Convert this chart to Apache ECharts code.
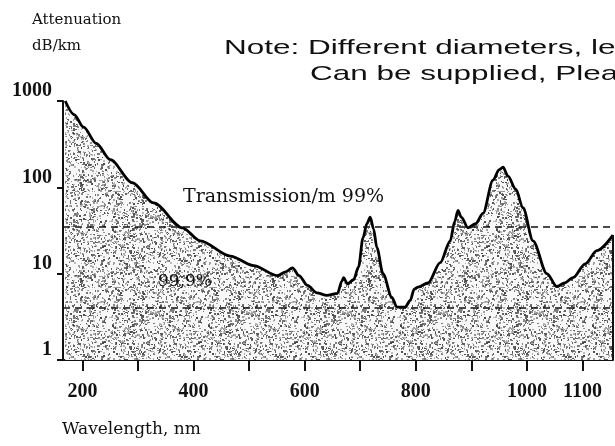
<!DOCTYPE html>
<html>
<head>
<meta charset="utf-8">
<script src="https://cdn.jsdelivr.net/npm/echarts@6/dist/echarts.min.js"></script>
<style>
  html, body { margin: 0; padding: 0; background: #fff; }
  #chart { width: 615px; height: 446px; }
</style>
</head>
<body>
<div id="chart"></div>
<script>
// wavelength (nm) and attenuation (dB/km)
const wavelength = [169, 185, 202, 225, 250, 290, 328, 380, 412, 466, 508, 551, 566, 578, 590, 605, 622, 640, 659, 667, 670, 677, 688, 697, 705, 712, 718, 724, 730, 741, 757, 766, 781, 790, 797, 804, 822, 844, 862, 870, 876, 882, 894, 908, 921, 939, 950, 957, 966, 980, 993, 1011, 1036, 1054, 1068, 1083, 1105, 1126, 1155];
const attenuation = [1000, 697, 497, 322, 209, 113, 66, 34, 24, 16, 12.4, 9.5, 10.5, 11.7, 9.5, 7.3, 6.0, 5.6, 5.9, 8.2, 9, 7.6, 8.5, 12, 26, 38, 45, 33, 20, 10, 5.3, 4.1, 4.1, 4.9, 6.6, 7.0, 7.8, 13.4, 24, 40, 54, 45, 34, 38, 50, 121, 160, 171, 135, 95, 58, 24, 10, 7.1, 7.8, 9, 13, 18.5, 28];

const xTicks = [200, 300, 400, 500, 600, 700, 800, 900, 1000, 1100];
const xLabels = [200, 400, 600, 800, 1000, 1100];
const xMin = 165;
const xMax = 1155;

const trans99 = 35;   // Transmission/m 99%
const trans999 = 4;   // 99,9%

// stippled fill like the scanned print
function stipple() {
  const size = 96;
  const c = document.createElement("canvas");
  c.width = c.height = size;
  const ctx = c.getContext("2d");
  ctx.fillStyle = "#f8f8f8";
  ctx.fillRect(0, 0, size, size);
  let s = 20240611;
  const rnd = () => {
    s = (Math.imul(s, 1664525) + 1013904223) >>> 0;
    return s / 4294967296;
  };
  for (let i = 0; i < 1500; i++) {
    const g = Math.floor(70 + rnd() * 120);
    ctx.fillStyle = "rgb(" + g + "," + g + "," + g + ")";
    ctx.fillRect(Math.floor(rnd() * size), Math.floor(rnd() * size), 1 + Math.floor(rnd() * 2), 1 + Math.floor(rnd() * 2));
  }
  return c;
}

const serif = "DejaVu Serif";
const chart = echarts.init(document.getElementById("chart"), null, { renderer: "canvas" });

chart.setOption({
  backgroundColor: "#fff",
  animation: false,
  grid: { left: 63, right: 2, top: 101, bottom: 86 },
  xAxis: {
    type: "value",
    min: xMin,
    max: xMax,
    axisLine: { lineStyle: { color: "#111", width: 2 } },
    axisTick: { customValues: xTicks, length: 11, lineStyle: { color: "#111", width: 2 } },
    axisLabel: {
      customValues: xLabels,
      formatter: (v) => String(v),
      margin: 22,
      color: "#111",
      fontFamily: "Liberation Serif",
      fontWeight: "bold",
      fontSize: 20,
    },
    splitLine: { show: false },
  },
  yAxis: {
    type: "log",
    logBase: 10,
    min: 1,
    max: 1000,
    axisLine: { show: true, lineStyle: { color: "#111", width: 2 } },
    axisTick: { show: true, length: 6, lineStyle: { color: "#111", width: 2 } },
    axisLabel: {
      formatter: (v) => String(v),
      margin: 11,
      verticalAlign: "bottom",
      color: "#111",
      fontFamily: "Liberation Serif",
      fontWeight: "bold",
      fontSize: 20,
    },
    splitLine: { show: false },
  },
  graphic: [
    { type: "text", x: 32, y: 20, style: { text: "Attenuation", font: "15px " + serif, fill: "#111", textVerticalAlign: "middle", verticalAlign: "middle" } },
    { type: "text", x: 32, y: 46, style: { text: "dB/km", font: "15px " + serif, fill: "#111", textVerticalAlign: "middle", verticalAlign: "middle" } },
    { type: "text", x: 224, y: 48, scaleX: 1.5, style: { text: "Note: Different diameters, lengths", font: "21px 'Liberation Sans'", fill: "#111", textVerticalAlign: "middle", verticalAlign: "middle" } },
    { type: "text", x: 310, y: 74, scaleX: 1.5, style: { text: "Can be supplied, Please", font: "21px 'Liberation Sans'", fill: "#111", textVerticalAlign: "middle", verticalAlign: "middle" } },
    { type: "text", x: 183, y: 197, z: 10, style: { text: "Transmission/m 99%", font: "19px " + serif, fill: "#111", textVerticalAlign: "middle", verticalAlign: "middle" } },
    { type: "text", x: 158, y: 282, z: 10, style: { text: "99,9%", font: "17px " + serif, fill: "#111", textVerticalAlign: "middle", verticalAlign: "middle" } },
    { type: "text", x: 62, y: 430, style: { text: "Wavelength, nm", font: "17px " + serif, fill: "#111", textVerticalAlign: "middle", verticalAlign: "middle" } },
  ],
  series: [
    {
      type: "line",
      data: wavelength.map((w, i) => [w, attenuation[i]]),
      symbol: "none",
      smooth: 0.3,
      smoothMonotone: "x",
      lineStyle: { color: "#000", width: 2.8 },
      areaStyle: { color: { image: stipple(), repeat: "repeat" }, origin: "start", opacity: 1 },
      markLine: {
        silent: true,
        symbol: "none",
        label: { show: false },
        lineStyle: { color: "#111", type: [7, 5], width: 1.5 },
        data: [{ yAxis: trans99 }, { yAxis: trans999 }],
      },
    },
    {
      // right edge of the filled region
      type: "line",
      data: [[xMax, 1], [xMax, attenuation[attenuation.length - 1]]],
      symbol: "none",
      lineStyle: { color: "#111", width: 2 },
    },
  ],
});
</script>
</body>
</html>
